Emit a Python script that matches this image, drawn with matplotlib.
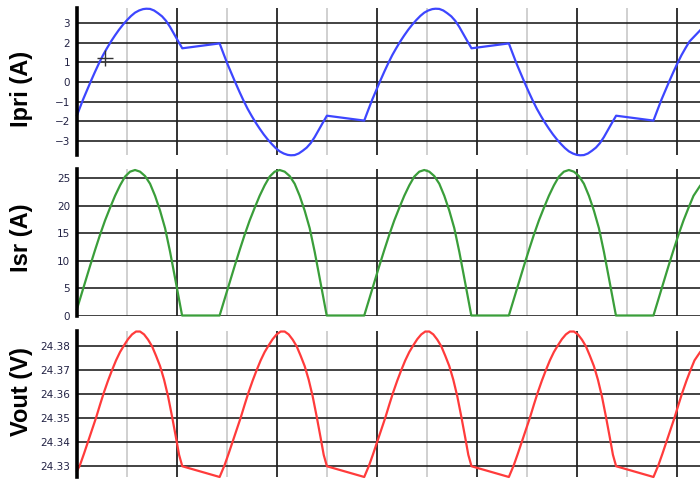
import matplotlib
matplotlib.use('Agg')
import matplotlib.pyplot as plt

# Time axis in grid divisions (black line every 1, gray line every 0.5)
x_end = 6.225

# Primary current Ipri (A)
ipri_x = [0.0, 0.02, 0.06, 0.10, 0.14, 0.18, 0.22, 0.26, 0.30, 0.34, 0.38, 0.42, 0.46, 0.50, 0.54, 0.58, 0.62, 0.66, 0.692,
          0.73, 0.77, 0.81, 0.85, 0.89, 0.93, 0.97, 1.01, 1.052,
          1.425, 1.465, 1.505, 1.545, 1.585, 1.625, 1.665, 1.705, 1.745, 1.785, 1.825, 1.865, 1.905, 1.945, 1.985, 2.025,
          2.065, 2.105, 2.137, 2.175, 2.215, 2.255, 2.295, 2.335, 2.375, 2.415, 2.455, 2.497,
          2.87, 2.91, 2.95, 2.99, 3.03, 3.07, 3.11, 3.15, 3.19, 3.23, 3.27, 3.31, 3.35, 3.39, 3.43, 3.47,
          3.51, 3.55, 3.582, 3.62, 3.66, 3.70, 3.74, 3.78, 3.82, 3.86, 3.90, 3.942,
          4.315, 4.355, 4.395, 4.435, 4.475, 4.515, 4.555, 4.595, 4.635, 4.675, 4.715, 4.755, 4.795, 4.835, 4.875, 4.915,
          4.955, 4.995, 5.027, 5.065, 5.105, 5.145, 5.185, 5.225, 5.265, 5.305, 5.345, 5.387,
          5.76, 5.80, 5.84, 5.88, 5.92, 5.96, 6.00, 6.04, 6.08, 6.12, 6.225]
ipri_y = [-1.70, -1.43, -0.90, -0.42, 0.06, 0.52, 0.96, 1.37, 1.73, 2.07, 2.38, 2.67, 2.93, 3.16, 3.37, 3.54, 3.65, 3.72, 3.74,
          3.73, 3.65, 3.51, 3.35, 3.12, 2.81, 2.45, 2.09, 1.72,
          1.97, 1.43, 0.90, 0.42, -0.06, -0.52, -0.96, -1.37, -1.73, -2.07, -2.38, -2.67, -2.93, -3.16, -3.37, -3.54,
          -3.65, -3.72, -3.74, -3.73, -3.65, -3.51, -3.35, -3.12, -2.81, -2.45, -2.09, -1.72,
          -1.97, -1.43, -0.90, -0.42, 0.06, 0.52, 0.96, 1.37, 1.73, 2.07, 2.38, 2.67, 2.93, 3.16, 3.37, 3.54,
          3.65, 3.72, 3.74, 3.73, 3.65, 3.51, 3.35, 3.12, 2.81, 2.45, 2.09, 1.72,
          1.97, 1.43, 0.90, 0.42, -0.06, -0.52, -0.96, -1.37, -1.73, -2.07, -2.38, -2.67, -2.93, -3.16, -3.37, -3.54,
          -3.65, -3.72, -3.74, -3.73, -3.65, -3.51, -3.35, -3.12, -2.81, -2.45, -2.09, -1.72,
          -1.97, -1.43, -0.90, -0.42, 0.06, 0.52, 0.96, 1.37, 1.73, 2.07, 2.63]

# Secondary rectifier current Isr (A)
isr_x = [0.0, 0.03, 0.08, 0.13, 0.18, 0.23, 0.28, 0.33, 0.38, 0.43, 0.48, 0.53, 0.58, 0.63, 0.68, 0.73, 0.78, 0.83,
         0.88, 0.93, 0.98, 1.015, 1.05,
         1.425, 1.475, 1.525, 1.575, 1.625, 1.675, 1.725, 1.775, 1.825, 1.875, 1.925, 1.975, 2.025, 2.075, 2.125, 2.175,
         2.225, 2.275, 2.325, 2.375, 2.425, 2.46, 2.495,
         2.87, 2.92, 2.97, 3.02, 3.07, 3.12, 3.17, 3.22, 3.27, 3.32, 3.37, 3.42, 3.47, 3.52, 3.57, 3.62,
         3.67, 3.72, 3.77, 3.82, 3.87, 3.905, 3.94,
         4.315, 4.365, 4.415, 4.465, 4.515, 4.565, 4.615, 4.665, 4.715, 4.765, 4.815, 4.865, 4.915, 4.965, 5.015, 5.065,
         5.115, 5.165, 5.215, 5.265, 5.315, 5.35, 5.385,
         5.76, 5.81, 5.86, 5.91, 5.96, 6.01, 6.06, 6.11, 6.16, 6.225]
isr_y = [1.2, 3.0, 6.0, 9.0, 11.9, 14.7, 17.3, 19.6, 21.8, 23.7, 25.3, 26.2, 26.5, 26.2, 25.4, 24.0, 21.8, 19.1,
         15.9, 11.6, 6.8, 3.4, 0,
         0, 3.0, 6.0, 9.0, 11.9, 14.7, 17.3, 19.6, 21.8, 23.7, 25.3, 26.2, 26.5, 26.2, 25.4, 24.0,
         21.8, 19.1, 15.9, 11.6, 6.8, 3.4, 0,
         0, 3.0, 6.0, 9.0, 11.9, 14.7, 17.3, 19.6, 21.8, 23.7, 25.3, 26.2, 26.5, 26.2, 25.4, 24.0,
         21.8, 19.1, 15.9, 11.6, 6.8, 3.4, 0,
         0, 3.0, 6.0, 9.0, 11.9, 14.7, 17.3, 19.6, 21.8, 23.7, 25.3, 26.2, 26.5, 26.2, 25.4, 24.0,
         21.8, 19.1, 15.9, 11.6, 6.8, 3.4, 0,
         0, 3.0, 6.0, 9.0, 11.9, 14.7, 17.3, 19.6, 21.8, 23.6]

# Output voltage Vout (V)
vout_x = [0.0, 0.028, 0.07, 0.11, 0.15, 0.19, 0.23, 0.27, 0.31, 0.35, 0.39, 0.43, 0.47, 0.51, 0.55, 0.59, 0.63, 0.67,
          0.71, 0.75, 0.79, 0.83, 0.87, 0.91, 0.95, 0.99, 1.02, 1.052,
          1.425, 1.473, 1.515, 1.555, 1.595, 1.635, 1.675, 1.715, 1.755, 1.795, 1.835, 1.875, 1.915, 1.955, 1.995, 2.035,
          2.075, 2.115, 2.155, 2.195, 2.235, 2.275, 2.315, 2.355, 2.395, 2.435, 2.465, 2.497,
          2.87, 2.918, 2.96, 3.00, 3.04, 3.08, 3.12, 3.16, 3.20, 3.24, 3.28, 3.32, 3.36, 3.40, 3.44, 3.48,
          3.52, 3.56, 3.60, 3.64, 3.68, 3.72, 3.76, 3.80, 3.84, 3.88, 3.91, 3.942,
          4.315, 4.363, 4.405, 4.445, 4.485, 4.525, 4.565, 4.605, 4.645, 4.685, 4.725, 4.765, 4.805, 4.845, 4.885, 4.925,
          4.965, 5.005, 5.045, 5.085, 5.125, 5.165, 5.205, 5.245, 5.285, 5.325, 5.355, 5.387,
          5.76, 5.808, 5.85, 5.89, 5.93, 5.97, 6.01, 6.05, 6.09, 6.13, 6.17, 6.225]
vout_y = [24.3278, 24.3300, 24.3350, 24.3400, 24.3450, 24.3500, 24.3555, 24.3608, 24.3656, 24.3700, 24.3741, 24.3776,
          24.3804, 24.3830, 24.3850, 24.3862, 24.3862, 24.3850, 24.3828, 24.3800, 24.3760, 24.3717, 24.3660, 24.3590,
          24.3505, 24.3415, 24.3345, 24.3297,
          24.3252, 24.3300, 24.3350, 24.3400, 24.3450, 24.3500, 24.3555, 24.3608, 24.3656, 24.3700, 24.3741, 24.3776,
          24.3804, 24.3830, 24.3850, 24.3862, 24.3862, 24.3850, 24.3828, 24.3800, 24.3760, 24.3717, 24.3660, 24.3590,
          24.3505, 24.3415, 24.3345, 24.3297,
          24.3252, 24.3300, 24.3350, 24.3400, 24.3450, 24.3500, 24.3555, 24.3608, 24.3656, 24.3700, 24.3741, 24.3776,
          24.3804, 24.3830, 24.3850, 24.3862, 24.3862, 24.3850, 24.3828, 24.3800, 24.3760, 24.3717, 24.3660, 24.3590,
          24.3505, 24.3415, 24.3345, 24.3297,
          24.3252, 24.3300, 24.3350, 24.3400, 24.3450, 24.3500, 24.3555, 24.3608, 24.3656, 24.3700, 24.3741, 24.3776,
          24.3804, 24.3830, 24.3850, 24.3862, 24.3862, 24.3850, 24.3828, 24.3800, 24.3760, 24.3717, 24.3660, 24.3590,
          24.3505, 24.3415, 24.3345, 24.3297,
          24.3252, 24.3300, 24.3350, 24.3400, 24.3450, 24.3500, 24.3555, 24.3608, 24.3656, 24.3700, 24.3741, 24.3775]

ipri_ticks = [-3, -2, -1, 0, 1, 2, 3]
isr_ticks = [0, 5, 10, 15, 20, 25]
vout_ticks = [24.33, 24.34, 24.35, 24.36, 24.37, 24.38]
vout_ticklabels = ['24.33', '24.34', '24.35', '24.36', '24.37', '24.38']

major_x = [1, 2, 3, 4, 5, 6]
minor_x = [0.5, 1.5, 2.5, 3.5, 4.5, 5.5]

fig = plt.figure(figsize=(7, 4.84), dpi=100)

# axes rectangles (left, bottom, width, height) in figure fractions
rects = [(0.11, 0.680, 0.89, 0.304),
         (0.11, 0.347, 0.89, 0.304),
         (0.11, 0.0145, 0.89, 0.302)]
# vertical centre of each y label (figure fraction)
label_y = [0.816, 0.509, 0.190]

panels = [
    (ipri_x, ipri_y, '#3d46ff', 'Ipri (A)', ipri_ticks, None, (-3.72, 3.79)),
    (isr_x, isr_y, '#3a9e3a', 'Isr (A)', isr_ticks, None, (-0.1, 26.7)),
    (vout_x, vout_y, '#ff3b3b', 'Vout (V)', vout_ticks, vout_ticklabels, (24.3252, 24.3865)),
]

for rect, ly, (xs, ys, col, label, yt, ytl, ylim) in zip(rects, label_y, panels):
    ax = fig.add_axes(rect)
    ax.set_xlim(0, x_end)
    ax.set_ylim(*ylim)

    # grid lines
    for xv in minor_x:
        ax.axvline(xv, color='#c8c8c8', lw=1.2, zorder=1)
    for xv in major_x:
        ax.axvline(xv, color='#111111', lw=1.2, zorder=1)
    for yv in yt:
        ax.axhline(yv, color='#222222', lw=1.2, zorder=1)

    ax.plot(xs, ys, color=col, lw=1.6, zorder=3, clip_on=False)

    for s in ['top', 'right', 'bottom']:
        ax.spines[s].set_visible(False)
    ax.spines['left'].set_linewidth(2.6)
    ax.spines['left'].set_color('black')
    ax.spines['left'].set_zorder(4)

    ax.set_xticks([])
    ax.set_yticks(yt)
    if ytl is not None:
        ax.set_yticklabels(ytl)
    ax.tick_params(axis='y', length=0, pad=5, labelsize=7.5, labelcolor='#222244')

    fig.text(0.031, ly, label, rotation=90, ha='center', va='center',
             fontsize=17, fontweight='bold', family='Liberation Sans')

    if label == 'Ipri (A)':
        # cursor cross
        ax.plot([0.28], [1.24], marker='+', markersize=12, mew=1.0, color='#333333', zorder=5)

fig.savefig('out.png', dpi=100)
